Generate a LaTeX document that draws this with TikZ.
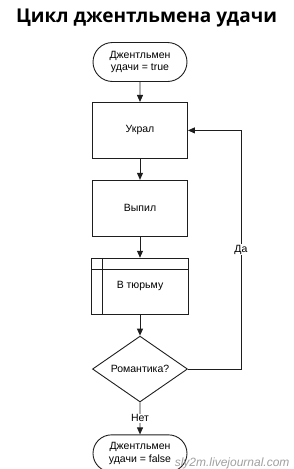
\documentclass[tikz,border=0pt]{standalone}
\usepackage{fontspec}
\setmainfont{Liberation Sans}
\newfontfamily\titlefont{Open Sans}
\usetikzlibrary{arrows.meta,positioning,shapes.geometric,shapes.misc}
\definecolor{FlowLine}{RGB}{30,30,30}
\definecolor{FlowMark}{RGB}{160,160,160}

\begin{document}
\begin{tikzpicture}[x=1pt,y=1pt,
  node distance=21pt,
  block/.style={rectangle,draw=FlowLine,line width=0.9pt,align=center,
                minimum width=95pt,minimum height=56pt,font=\fontsize{10.5}{12.5}\selectfont},
  term/.style={rounded rectangle,draw=FlowLine,line width=0.9pt,align=center,
               minimum width=96pt,minimum height=39pt,inner sep=1pt,font=\fontsize{10.5}{12.5}\selectfont},
  decision/.style={diamond,draw=FlowLine,line width=0.9pt,inner sep=0pt,
                   minimum width=95pt,minimum height=56pt,font=\fontsize{10.5}{12.5}\selectfont},
  arrow/.style={-{Triangle[length=7pt,width=6pt]},draw=FlowLine,line width=0.9pt},
  lbl/.style={fill=white,inner sep=1pt,font=\fontsize{10.5}{12.5}\selectfont}
]
\useasboundingbox (0,0) rectangle (293,-469);
\node[font=\titlefont\bfseries\fontsize{19}{23}\selectfont] (title) at (146.5,-18) {Цикл джентльмена удачи};
\node[term] (start) at (140,-62) {Джентльмен\\удачи = true};
\node[block,below=20pt of start] (steal) {Украл};
\node[block,below=of steal] (drink) {Выпил};
\node[block,below=of drink,minimum width=97pt] (jail) {В тюрьму};
\draw[draw=FlowLine,line width=0.9pt] ([yshift=-12pt]jail.north west) -- ([yshift=-12pt]jail.north east);
\draw[draw=FlowLine,line width=0.9pt] ([xshift=11pt]jail.north west) -- ([xshift=11pt]jail.south west);
\node[decision,below=of jail] (romance) {Романтика?};
\node[term,below=32pt of romance,minimum height=37pt] (stop) {Джентльмен\\удачи = false};
\coordinate[right=53pt of romance.east] (back);
\draw[arrow] (start) -- (steal);
\draw[arrow] (steal) -- (drink);
\draw[arrow] (drink) -- (jail);
\draw[arrow] (jail) -- (romance);
\draw[arrow] (romance) -- node[lbl]{Нет} (stop);
\draw[arrow] (romance.east) -- (back) |- node[lbl,pos=0.25]{Да} (steal.east);
\node[anchor=base east,text=FlowMark,font=\itshape\fontsize{12}{14}\selectfont] (mark) at (293,-466) {sly2m.livejournal.com};
\end{tikzpicture}
\end{document}
